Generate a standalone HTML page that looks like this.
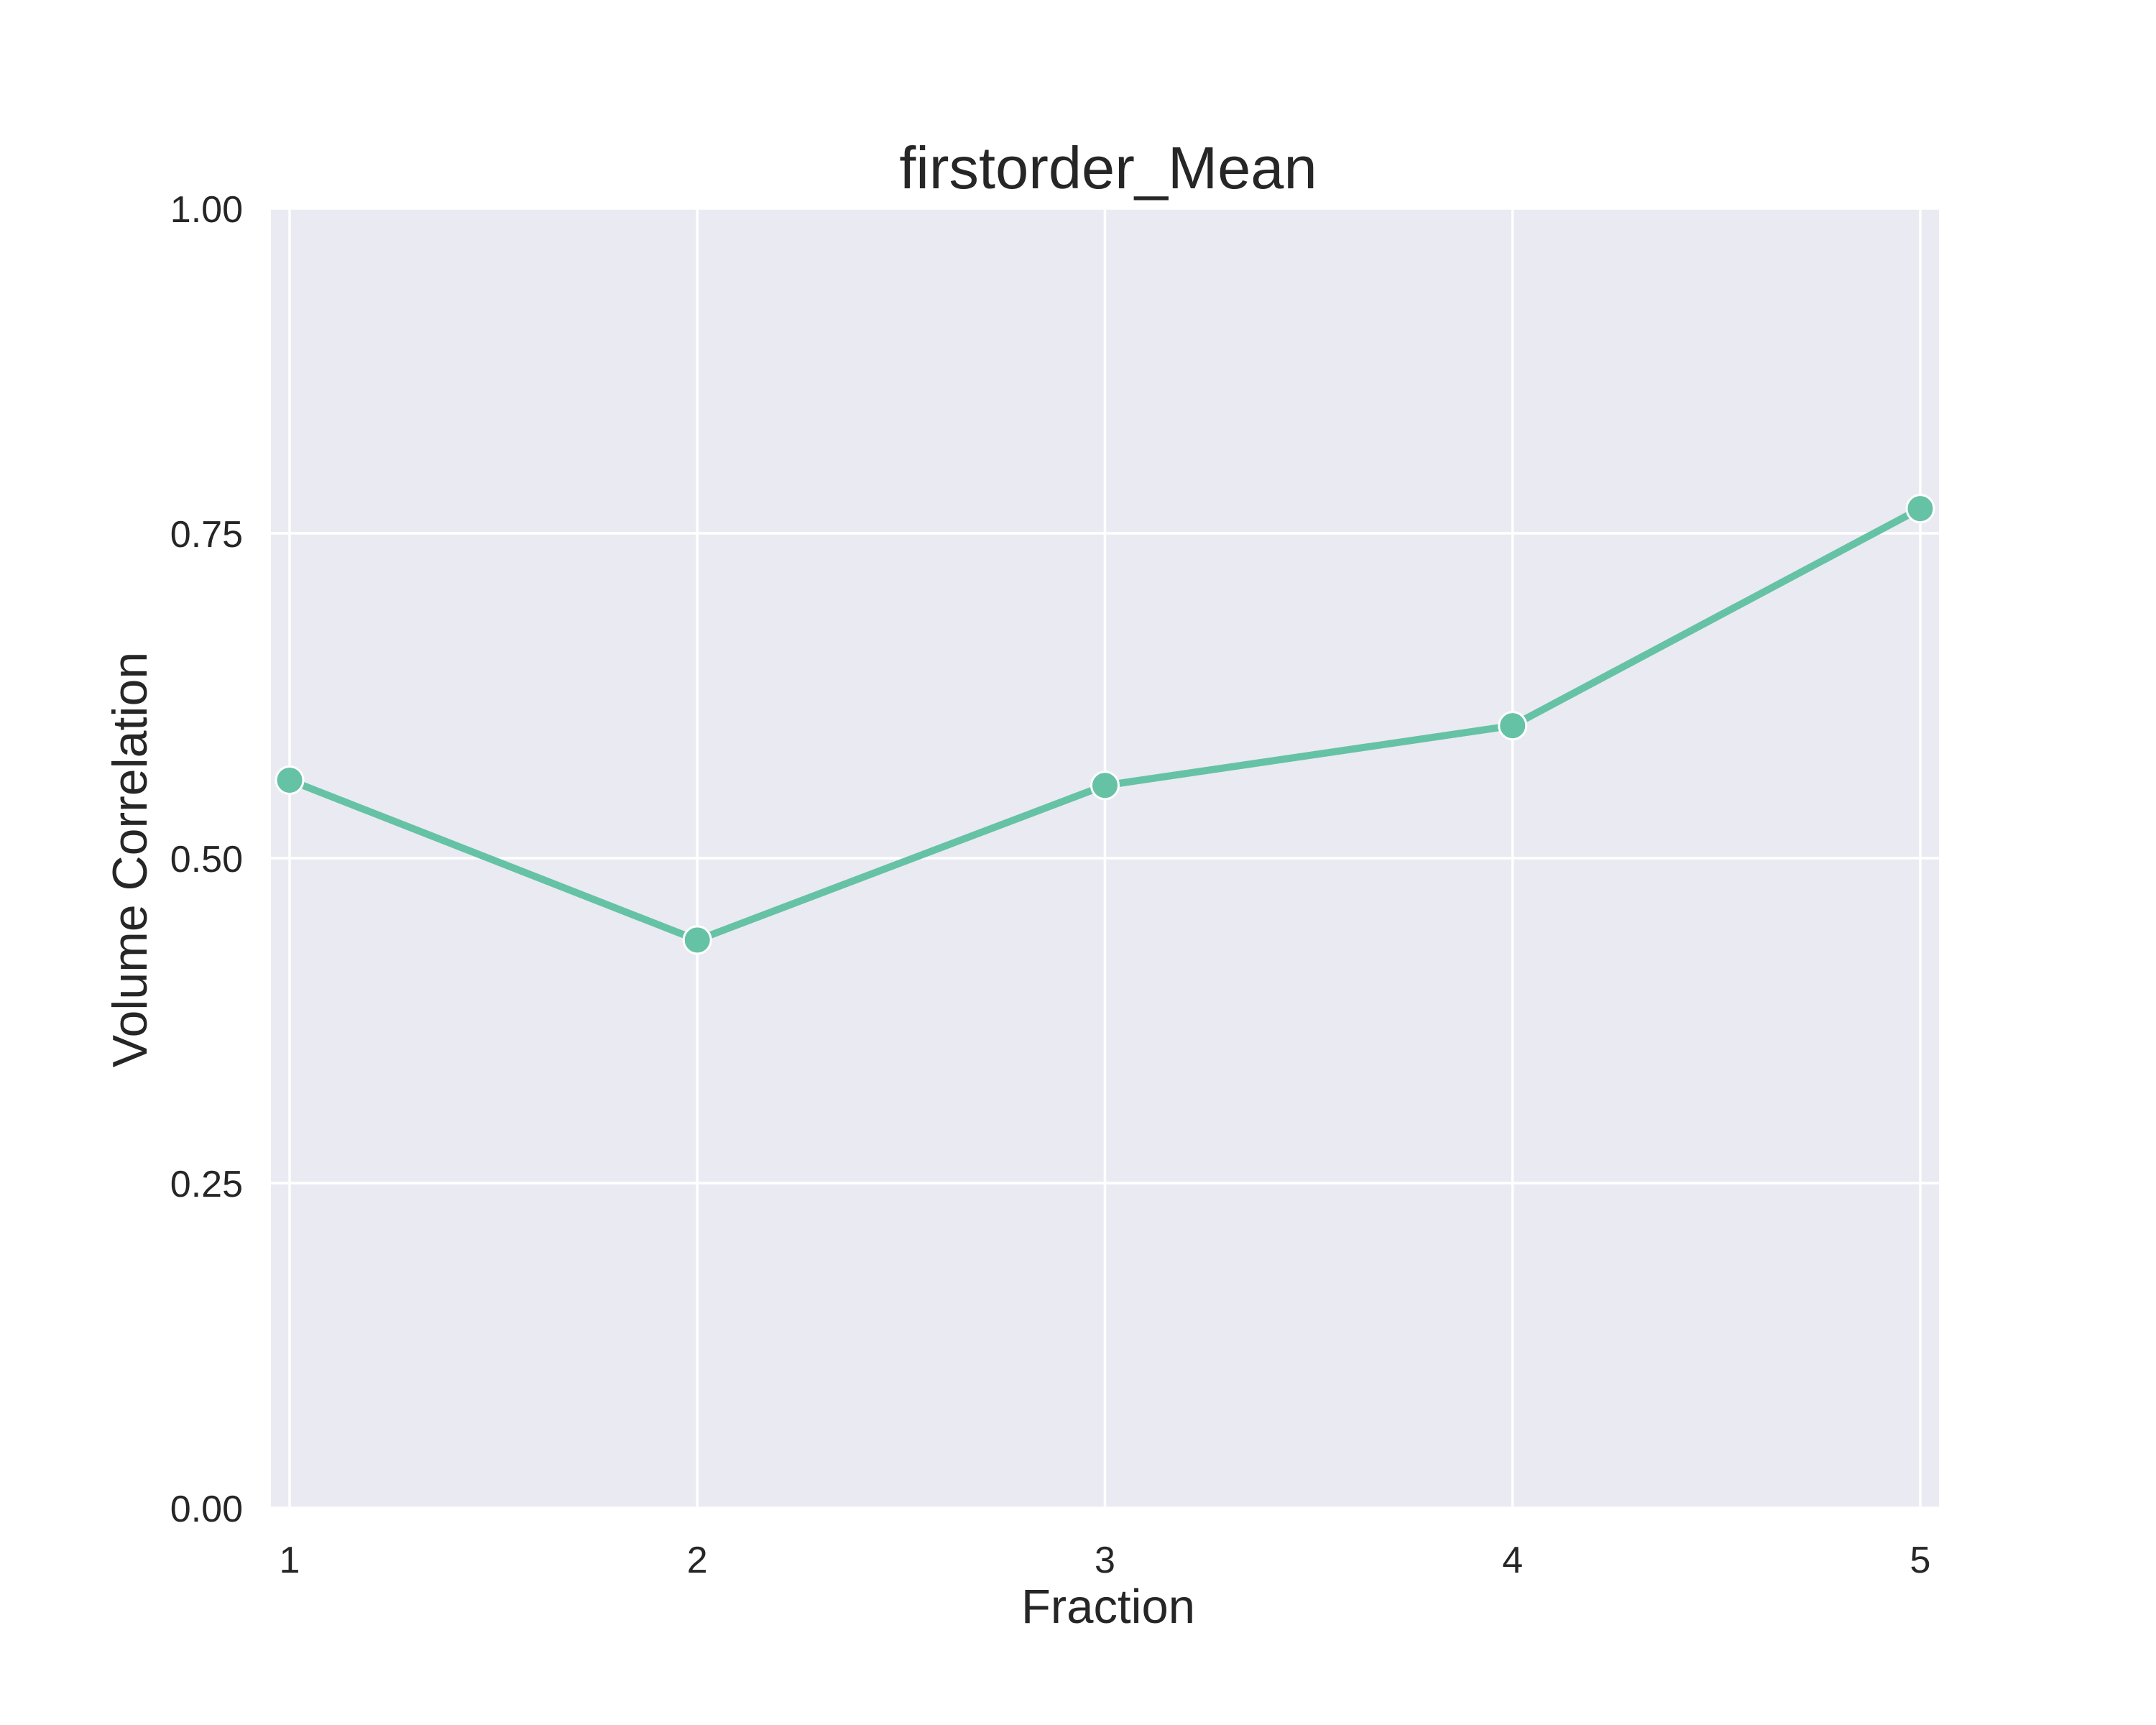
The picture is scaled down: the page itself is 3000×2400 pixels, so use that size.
<!DOCTYPE html>
<html><head><meta charset="utf-8"><style>
html,body{margin:0;padding:0;background:#fff;}
svg{display:block;font-family:"Liberation Sans",Arial,sans-serif;}
</style></head><body>
<svg id="chart" width="3000" height="2400" viewBox="0 0 3000 2400" xmlns="http://www.w3.org/2000/svg">
<rect x="377" y="290" width="2321" height="1808" fill="#eaeaf2"/>
<g id="grid"></g><g id="ticks"></g><g id="series"></g>
<text x="1542" y="262" font-size="83" text-anchor="middle" fill="#262626">firstorder_Mean</text>
<text x="1542" y="2258" font-size="67" text-anchor="middle" fill="#262626">Fraction</text>
<text x="0" y="0" font-size="68" text-anchor="middle" fill="#262626" transform="translate(204,1196) rotate(-90)">Volume Correlation</text>
</svg>
<script>
const categories = [1, 2, 3, 4, 5];
const values = [0.560, 0.437, 0.556, 0.602, 0.769];
const yTicks = [0, 0.25, 0.5, 0.75, 1.0];
const yTickLabels = ["0.00", "0.25", "0.50", "0.75", "1.00"];

const NS = "http://www.w3.org/2000/svg";
const L = 377, R = 2698, T = 290, B = 2098;
const xs = v => 403 + (v - 1) * (2672 - 403) / 4;
const ys = v => B - v * (B - T);
function mk(tag, attrs, parent) {
  const e = document.createElementNS(NS, tag);
  for (const k in attrs) e.setAttribute(k, attrs[k]);
  parent.appendChild(e);
  return e;
}
const grid = document.getElementById('grid');
const ticks = document.getElementById('ticks');
const series = document.getElementById('series');
categories.forEach(c => {
  const l = mk('line', {x1: xs(c), x2: xs(c), y1: T, y2: B, stroke: '#fff', 'stroke-width': 3.5}, grid);
  
  
  const t = mk('text', {x: xs(c), y: 2188, 'font-size': 52, 'text-anchor': 'middle', fill: '#262626'}, ticks);
  t.textContent = String(c);
  
  
});
yTicks.forEach((v, i) => {
  const l = mk('line', {x1: L, x2: R, y1: ys(v), y2: ys(v), stroke: '#fff', 'stroke-width': 3.5}, grid);
  
  
  const t = mk('text', {x: 338, y: ys(v) + 19, 'font-size': 52, 'text-anchor': 'end', fill: '#262626'}, ticks);
  t.textContent = yTickLabels[i];
  
  
});
const pts = categories.map((c, i) => xs(c) + ',' + ys(values[i])).join(' ');
const line = mk('polyline', {points: pts, fill: 'none', stroke: '#66c2a5', 'stroke-width': 10, 'stroke-linejoin': 'round', 'stroke-linecap': 'round'}, series);


categories.forEach((c, i) => {
  const p = mk('circle', {cx: xs(c), cy: ys(values[i]), r: 19, fill: '#66c2a5', stroke: '#fff', 'stroke-width': 3}, series);
  
  
});
</script>
</body></html>
